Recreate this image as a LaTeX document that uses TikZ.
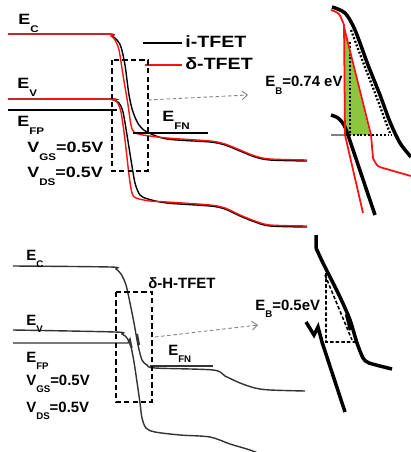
\documentclass[tikz,border=0pt]{standalone}
\usepackage{fontspec}
\setmainfont{Liberation Sans}
\newfontfamily\widefont[FakeStretch=1.2]{Liberation Sans}
\usetikzlibrary{arrows.meta}
\definecolor{tred}{HTML}{FF1010}
\definecolor{tgreen}{HTML}{8CC63F}
\definecolor{hgray}{HTML}{333333}
\newcommand\lsub[1]{\raisebox{-0.9ex}{\fontsize{5.5}{6}\selectfont #1}}

\begin{document}
\begin{tikzpicture}[x=0.02cm,y=-0.02cm,
 band/.style={line width=0.8pt},
 inband/.style={line width=2pt},
 lab/.style={anchor=base west,inner sep=0pt,font=\fontsize{8.5}{10}\selectfont\bfseries},
 wlab/.style={lab,font=\fontsize{8.5}{10}\selectfont\widefont\bfseries},
 leglab/.style={lab,font=\fontsize{9.3}{10}\selectfont\widefont\bfseries},
 zoombox/.style={draw,line width=1pt,dash pattern=on 3pt off 1.8pt},
 zoomarrow/.style={gray,line width=0.5pt,dash pattern=on 2pt off 1.5pt,
   -{Straight Barb[length=3pt,width=5pt]}},
 dotline/.style={line width=1.3pt,dash pattern=on 1.1pt off 1.1pt},
 dashline/.style={line width=0.9pt,dash pattern=on 2pt off 1.2pt}]
\useasboundingbox (0,0) rectangle (411,452);

% top: i-TFET and delta-TFET
\draw[band] plot[smooth,tension=0.5] coordinates {(8,34) (106,34) (112,36) (117,40) (121,47)
 (125,65) (129,95) (133,112) (139,125) (147,132) (167,139) (210,142) (225,145) (240,151)
 (255,157) (270,160) (307,161)};
\draw[band] plot[smooth,tension=0.5] coordinates {(8,99) (108,99) (114,100) (119,103) (123,112)
 (127,135) (131,160) (135,183) (140,195) (148,199) (167,203) (210,206) (225,209) (240,216)
 (255,222) (270,226) (307,227)};
\draw[band,tred] plot[smooth,tension=0.5] coordinates {(8,34) (105,34) (111,36) (115,40) (119,50)
 (123,75) (128,105) (131,125) (134,132) (143,135) (167,138) (210,141) (225,144) (240,150)
 (255,156) (270,159) (307,160)};
\draw[band,tred] plot[smooth,tension=0.5] coordinates {(8,99) (108,99) (113,100) (117,102) (121,112)
 (125,140) (129,175) (132,193) (136,198) (150,201) (167,202) (210,205) (225,208) (240,215)
 (255,221) (270,225) (307,226)};
\draw[band] (8,110) -- (117,110);
\draw[band] (133,133) -- (208,133);
\draw[band] (143,43) -- (182,43);
\draw[band,tred] (145,65) -- (182,65);
\draw[zoombox] (112,60) rectangle (148,171);
\coordinate (aT) at (148,100);
\coordinate (bT) at (248,95);
\draw[zoomarrow] (aT) -- (bT);

% top inset
\fill[tgreen] (345,33) -- (345,135) -- (370,135) -- cycle;
\draw[gray,line width=0.6pt] (331,135) -- (347,135);
\draw[inband] plot[smooth,tension=0.5] coordinates {(332,7) (345,13) (355,30) (368,65) (380,95)
 (390,122) (400,143) (411,157)};
\draw[inband] plot[smooth,tension=0.5] coordinates {(331,115) (338,118) (344,125) (348,135)}
 -- (375,215);
\draw[dotline] (350,42) -- (350,135) (345,135) -- (392,135);
\draw[dotline] plot[smooth,tension=0.5] coordinates {(351,30) (363,62) (375,93) (385,120) (390,133)};
\draw[tred,line width=1pt] plot[smooth,tension=0.5] coordinates {(331,10) (339,14) (344,25)}
 -- (345,135) -- (363,213);
\draw[tred,line width=1pt] (344,27) -- (371,135) -- (373,158)
 plot[smooth,tension=0.5] coordinates {(373,158) (378,166) (390,170) (411,176)};

% bottom: delta-H-TFET
\draw[band,hgray] plot[smooth,tension=0.5] coordinates {(13,266) (110,267) (116,269) (121,274)
 (126,285) (130,303) (134,323) (138,345) (142,360) (147,365) (155,368) (213,370) (225,376)
 (240,383) (255,388) (270,390) (305,391)};
\draw[band,hgray] plot[smooth,tension=0.5] coordinates {(13,330) (115,332) (122,334) (127,338)
 (131,347) (134,362) (137,382) (140,403) (142,418) (146,428) (155,432) (180,435) (210,437)
 (230,444) (250,450) (265,456)};
\draw[band,hgray] (13,343) -- (128,343) -- (130,339) -- (132,348);
\draw[hgray,line width=1.2pt] (137,334) -- (139,345);
\draw[band,hgray] (150,366) -- (213,366);
\draw[zoombox] (116,292) rectangle (152,402);
\coordinate (aB) at (155,337);
\coordinate (bB) at (258,325);
\draw[zoomarrow] (aB) -- (bB);

% bottom inset
\draw[inband] (316,235) -- (316,248) plot[smooth,tension=0.4] coordinates {(316,248) (323,263)
 (340,297) (350,320) (357,343) (363,358) (369,363) (392,369)};
\draw[line width=2.6pt] (347,314) -- (351,330);
\draw[inband,line join=miter] (306,322) -- (314,335) -- (318,327) -- (322,342) -- (345,412);
\draw[dashline] (326,273) -- (326,342) -- (356,342) (325,275) -- (352,340);

% labels
\foreach \n/\x/\y/\t in {ECt/18/25/E\lsub{C}, EVt/17/89/E\lsub{V}, EFPt/17/127/E\lsub{FP},
 VGSt/27/153/V\lsub{GS}=0.5V, VDSt/27/178/V\lsub{DS}=0.5V, EFNt/162/122/E\lsub{FN}}
 \node[wlab] (\n) at (\x,\y) {\t};
\foreach \n/\x/\y/\t in {legi/185/48/i-TFET, legd/185/70/δ-TFET}
 \node[leglab] (\n) at (\x,\y) {\t};
\foreach \n/\x/\y/\t in {EBt/265/87/E\lsub{B}=0.74 eV, ECb/26/260/E\lsub{C}, EVb/26/325/E\lsub{V},
 EFPb/26/362/E\lsub{FP}, VGSb/26/385/V\lsub{GS}=0.5V, VDSb/26/412/V\lsub{DS}=0.5V,
 EFNb/168/355/E\lsub{FN}, legh/148/288/δ-H-TFET, EBb/255/310/E\lsub{B}=0.5eV}
 \node[lab] (\n) at (\x,\y) {\t};
\end{tikzpicture}
\end{document}
